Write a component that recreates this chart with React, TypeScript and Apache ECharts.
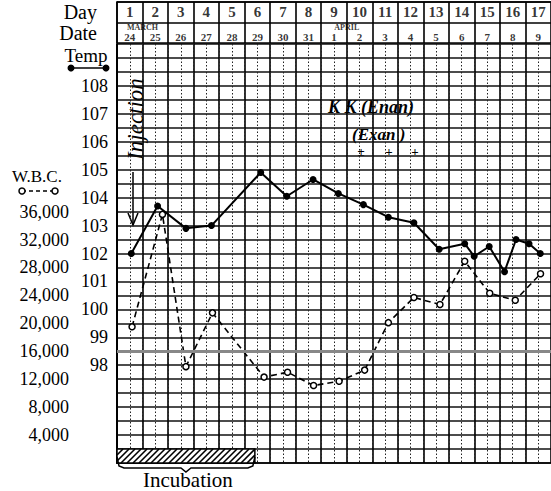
import React, { useEffect, useRef } from 'react';
import * as echarts from 'echarts';

// ---- data ----
const dayNumbers = [1, 2, 3, 4, 5, 6, 7, 8, 9, 10, 11, 12, 13, 14, 15, 16, 17];
const dateLabels = ['24', '25', '26', '27', '28', '29', '30', '31', '1', '2', '3', '4', '5', '6', '7', '8', '9'];
const monthLabels = ['MARCH', 'APRIL'];
const monthDays = [1.5, 9.5];

const tempDays = [1.06, 2.09, 3.2, 4.2, 6.13, 7.15, 8.18, 9.17, 10.15, 11.13, 12.13, 13.12, 14.12, 14.49, 15.08, 15.68, 16.13, 16.64, 17.08];
const tempValues = [102.0, 103.7, 102.9, 103.0, 104.9, 104.05, 104.65, 104.15, 103.75, 103.3, 103.1, 102.15, 102.35, 101.9, 102.25, 101.35, 102.5, 102.35, 102.0];

const wbcDays = [1.09, 2.28, 3.2, 4.24, 6.26, 7.18, 8.2, 9.2, 10.2, 11.13, 12.13, 13.15, 14.12, 15.1, 16.1, 17.09];
const wbcValues = [19500, 35600, 13800, 21500, 12300, 13000, 11100, 11700, 13300, 20100, 23700, 22700, 28900, 24300, 23300, 27100];

const tempTickLabels = [98, 99, 100, 101, 102, 103, 104, 105, 106, 107, 108];
const wbcTickLabels = [4000, 8000, 12000, 16000, 20000, 24000, 28000, 32000, 36000];

const normalTemp = 98.5;
const incubationDays = [0.5, 5.9];
const incubationTemps = [94.5, 95];

const SERIF = '"Liberation Serif", "Times New Roman", serif';

// day (column centre = integer) -> half-column axis units
const hx = (d: number) => 2 * d - 1;

export default function App() {
  const ref = useRef<HTMLDivElement>(null);

  useEffect(() => {
    if (!ref.current) return;
    const chart = echarts.init(ref.current, undefined, { renderer: 'svg' });

    const incubationRender = (params: any, api: any) => {
      const x0v = api.value(0), x1v = api.value(1), y0v = api.value(2), y1v = api.value(3);
      const tl = api.coord([x0v, y1v]);
      const br = api.coord([x1v, y0v]);
      const x0 = tl[0], yt = tl[1], x1 = br[0], yb = br[1];
      const h = yb - yt;
      const children: any[] = [
        { type: 'rect', shape: { x: x0, y: yt, width: x1 - x0, height: h }, style: { fill: '#fff', stroke: '#000', lineWidth: 1.5 } },
      ];
      const step = 6;
      for (let xb = x0 - h; xb < x1; xb += step) {
        let sx = xb, sy = yb, ex = xb + h, ey = yt;
        if (sx < x0) { sy = yb - (x0 - sx); sx = x0; }
        if (ex > x1) { ey = yt + (ex - x1); ex = x1; }
        if (ex <= sx) continue;
        children.push({ type: 'line', shape: { x1: sx, y1: sy, x2: ex, y2: ey }, style: { stroke: '#000', lineWidth: 1.6 } });
      }
      const mid = (x0 + x1) / 2;
      children.push({
        type: 'polyline',
        shape: { points: [[x0, yb - 6], [x0 + 2, yb + 3], [x0 + 7, yb + 5], [mid - 5, yb + 5], [mid, yb + 9], [mid + 5, yb + 5], [x1 - 7, yb + 5], [x1 - 2, yb + 3], [x1, yb - 6]] },
        style: { stroke: '#000', fill: 'none', lineWidth: 1.5 },
      });
      children.push({
        type: 'text',
        x: mid + 2,
        y: yb + 17,
        style: { text: 'Incubation', font: `21px ${SERIF}`, fill: '#000', align: 'center', verticalAlign: 'middle' },
      });
      return { type: 'group', children };
    };

    const option: any = {
      animation: false,
      backgroundColor: '#fff',
      grid: [
        { left: 117, top: 44, width: 442, height: 419 },
        { left: 117, top: 2, width: 442, height: 41 },
      ],
      xAxis: [
        {
          type: 'value', gridIndex: 0, min: 0, max: 34, interval: 2,
          axisLine: { show: true, onZero: false, lineStyle: { color: '#000', width: 1.5 } },
          axisTick: { show: false }, axisLabel: { show: false },
          splitLine: { show: true, lineStyle: { color: '#000', width: 1.6 } },
        },
        {
          type: 'value', gridIndex: 0, min: 0, max: 34, interval: 1,
          axisLine: { show: false }, axisTick: { show: false }, axisLabel: { show: false },
          splitLine: { show: true, lineStyle: { color: '#222', width: 1, type: [1.5, 2] } },
        },
        {
          type: 'value', gridIndex: 1, min: 0, max: 34, interval: 2, position: 'top',
          axisLine: { show: true, onZero: false, lineStyle: { color: '#000', width: 1.5 } },
          axisTick: { show: false }, axisLabel: { show: false },
          splitLine: { show: true, lineStyle: { color: '#000', width: 1.6 } },
        },
      ],
      yAxis: [
        {
          type: 'value', gridIndex: 0, min: 94.5, max: 109.5, interval: 0.5,
          axisLine: { show: true, lineStyle: { color: '#000', width: 2 } },
          axisTick: { show: false },
          axisLabel: {
            margin: 9, color: '#000', fontFamily: SERIF, fontSize: 18,
            formatter: (v: number) => (tempTickLabels.indexOf(Math.round(v * 10) / 10) >= 0 ? String(Math.round(v)) : ''),
          },
          splitLine: { show: true, lineStyle: { color: '#111', width: 1.5 } },
        },
        {
          type: 'value', gridIndex: 0, min: 0, max: 60000, interval: 4000, position: 'left', offset: 40,
          axisLine: { show: false }, axisTick: { show: false }, splitLine: { show: false },
          axisLabel: {
            margin: 8, color: '#000', fontFamily: SERIF, fontSize: 18,
            formatter: (v: number) => (wbcTickLabels.indexOf(Math.round(v)) >= 0 ? Math.round(v).toLocaleString('en-US') : ''),
          },
        },
        {
          type: 'category', gridIndex: 1, data: ['Date', 'Day'], boundaryGap: true,
          axisLine: { show: true, lineStyle: { color: '#000', width: 1.5 } },
          axisTick: { show: false },
          axisLabel: { interval: 0, margin: 20, color: '#000', fontFamily: SERIF, fontSize: 20, hideOverlap: false },
          splitLine: { show: true, interval: 0, lineStyle: { color: '#000', width: 1.5 } },
        },
      ],
      series: [
        {
          name: 'Temp', type: 'line', xAxisIndex: 0, yAxisIndex: 0,
          data: tempDays.map((d, i) => [hx(d), tempValues[i]]),
          symbol: 'circle', symbolSize: 7,
          itemStyle: { color: '#000' },
          lineStyle: { color: '#000', width: 2 },
          z: 5,
          markLine: {
            silent: true, symbol: 'none', label: { show: false },
            lineStyle: { color: '#888', width: 3, type: 'solid' },
            data: [{ yAxis: normalTemp }],
          },
        },
        {
          name: 'W.B.C.', type: 'line', xAxisIndex: 0, yAxisIndex: 1,
          data: wbcDays.map((d, i) => [hx(d), wbcValues[i]]),
          symbol: 'circle', symbolSize: 6,
          itemStyle: { color: '#fff', borderColor: '#000', borderWidth: 1.5 },
          lineStyle: { color: '#000', width: 1.6, type: [6, 4] },
          z: 4,
        },
        {
          type: 'custom', xAxisIndex: 0, yAxisIndex: 0, clip: false,
          renderItem: incubationRender,
          data: [[hx(incubationDays[0]), hx(incubationDays[1]), incubationTemps[0], incubationTemps[1]]],
          z: 6,
        },
        {
          type: 'scatter', xAxisIndex: 2, yAxisIndex: 2, symbolSize: 0, silent: true,
          data: dayNumbers.map((d) => [hx(d), 1, d]),
          label: { show: true, position: 'inside', formatter: (p: any) => String(p.value[2]), color: '#000', fontFamily: SERIF, fontWeight: 'bold', fontSize: 15 },
        },
        {
          type: 'scatter', xAxisIndex: 2, yAxisIndex: 2, symbolSize: 0, silent: true,
          data: dateLabels.map((t, i) => [hx(dayNumbers[i]), 0, t]),
          label: { show: true, position: 'inside', offset: [0, 4], formatter: (p: any) => String(p.value[2]), color: '#000', fontFamily: SERIF, fontWeight: 'bold', fontSize: 11 },
        },
        {
          type: 'scatter', xAxisIndex: 2, yAxisIndex: 2, symbolSize: 0, silent: true,
          data: monthLabels.map((t, i) => [hx(monthDays[i]), 0, t]),
          label: { show: true, position: 'inside', offset: [0, -5], formatter: (p: any) => String(p.value[2]), color: '#000', fontFamily: SERIF, fontWeight: 'bold', fontSize: 8 },
        },
      ],
      graphic: [
        // Temp legend
        { type: 'text', x: 86, y: 55, style: { text: 'Temp', font: `19px ${SERIF}`, fill: '#000', align: 'center', verticalAlign: 'middle' } },
        { type: 'line', shape: { x1: 71, y1: 68, x2: 106, y2: 68 }, style: { stroke: '#000', lineWidth: 1.5 } },
        { type: 'circle', shape: { cx: 71, cy: 68, r: 3.5 }, style: { fill: '#000' } },
        { type: 'circle', shape: { cx: 106, cy: 68, r: 3.5 }, style: { fill: '#000' } },
        // W.B.C. legend
        { type: 'text', x: 37, y: 176, style: { text: 'W.B.C.', font: `17px ${SERIF}`, fill: '#000', align: 'center', verticalAlign: 'middle' } },
        { type: 'line', shape: { x1: 22, y1: 191, x2: 55, y2: 191 }, style: { stroke: '#000', lineWidth: 1.5, lineDash: [4, 3] } },
        { type: 'circle', shape: { cx: 22, cy: 191, r: 3 }, style: { fill: '#fff', stroke: '#000', lineWidth: 1.5 } },
        { type: 'circle', shape: { cx: 55, cy: 191, r: 3 }, style: { fill: '#fff', stroke: '#000', lineWidth: 1.5 } },
        // Injection annotation
        { type: 'text', x: 135, y: 119, rotation: Math.PI / 2, style: { text: 'Injection', font: `italic 23px ${SERIF}`, fill: '#000', align: 'center', verticalAlign: 'middle', backgroundColor: '#fff' } },
        { type: 'line', shape: { x1: 133, y1: 172, x2: 133, y2: 225 }, style: { stroke: '#000', lineWidth: 1.5 } },
        { type: 'polyline', shape: { points: [[128, 213], [133, 225], [138, 213]] }, style: { stroke: '#000', fill: 'none', lineWidth: 1.5 } },
        // K K annotations
        { type: 'text', x: 328, y: 107, style: { text: 'K K (Enan)', font: `italic bold 18px ${SERIF}`, fill: '#000', align: 'left', verticalAlign: 'middle', backgroundColor: '#fff' } },
        { type: 'text', x: 352, y: 134, style: { text: '(Exan )', font: `italic bold 17px ${SERIF}`, fill: '#000', align: 'left', verticalAlign: 'middle', backgroundColor: '#fff' } },
        { type: 'text', x: 361, y: 151, style: { text: '±', font: `bold 13px ${SERIF}`, fill: '#000', align: 'center', verticalAlign: 'middle' } },
        { type: 'text', x: 389, y: 151, style: { text: '+', font: `bold 13px ${SERIF}`, fill: '#000', align: 'center', verticalAlign: 'middle' } },
        { type: 'text', x: 415, y: 151, style: { text: '+', font: `bold 13px ${SERIF}`, fill: '#000', align: 'center', verticalAlign: 'middle' } },
      ],
    };

    chart.setOption(option);
    return () => chart.dispose();
  }, []);

  return (
    <div
      ref={ref}
      style={{ position: 'absolute', left: 0, top: 0, width: 551, height: 491, background: '#fff', overflow: 'hidden' }}
    />
  );
}
